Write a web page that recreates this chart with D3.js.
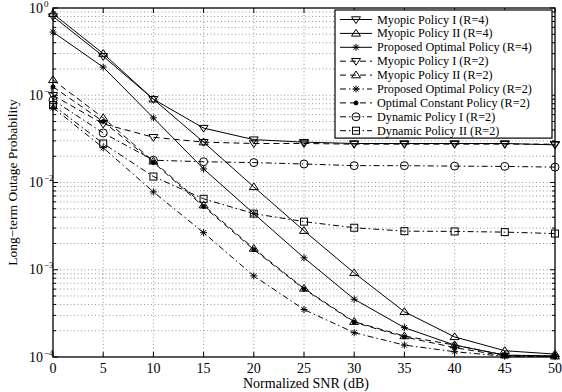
<!DOCTYPE html>
<html>
<head>
<meta charset="utf-8">
<script src="https://cdn.jsdelivr.net/npm/d3@7"></script>
<style>
  html, body { margin: 0; padding: 0; background: #fff; }
  svg, svg text { font-family: "Liberation Serif", "Times New Roman", "DejaVu Serif", serif; }
</style>
</head>
<body>
<div id="chart"></div>
<script>
const snr = [0, 5, 10, 15, 20, 25, 30, 35, 40, 45, 50];

const myopic1R4 = [0.80, 0.28, 0.09, 0.042, 0.031, 0.029, 0.028, 0.028, 0.028, 0.028, 0.027];
const myopic2R4 = [0.86, 0.30, 0.09, 0.029, 0.0089, 0.0028, 0.00092, 0.00033, 0.00017, 0.000118, 0.000108];
const propR4 = [0.53, 0.21, 0.055, 0.0143, 0.0044, 0.00137, 0.00046, 0.000217, 0.000137, 0.000105, 0.000103];
const myopic1R2 = [0.10, 0.047, 0.033, 0.029, 0.028, 0.028, 0.0275, 0.0275, 0.0275, 0.0275, 0.0275];
const myopic2R2 = [0.15, 0.055, 0.0175, 0.0055, 0.00175, 0.00061, 0.000254, 0.000174, 0.000137, 0.000105, 0.000102];
const propR2 = [0.072, 0.025, 0.0078, 0.00266, 0.00085, 0.00035, 0.00019, 0.000137, 0.000115, 0.000102, 0.000101];
const optConstR2 = [0.125, 0.05, 0.017, 0.0053, 0.0017, 0.0006, 0.00025, 0.00017, 0.000128, 0.000103, 0.000101];
const dyn1R2 = [0.088, 0.037, 0.018, 0.0173, 0.0169, 0.0163, 0.0156, 0.0156, 0.0154, 0.0153, 0.015];
const dyn2R2 = [0.077, 0.028, 0.0117, 0.0065, 0.0044, 0.00356, 0.00303, 0.00277, 0.00275, 0.0027, 0.0026];

const seriesNames = [
  'Myopic Policy I (R=4)', 'Myopic Policy II (R=4)', 'Proposed Optimal Policy (R=4)',
  'Myopic Policy I (R=2)', 'Myopic Policy II (R=2)', 'Proposed Optimal Policy (R=2)',
  'Optimal Constant Policy (R=2)', 'Dynamic Policy I (R=2)', 'Dynamic Policy II (R=2)'
];
const seriesValues = [myopic1R4, myopic2R4, propR4, myopic1R2, myopic2R2, propR2, optConstR2, dyn1R2, dyn2R2];
const seriesMarkers = ['tdown', 'tup', 'star', 'tdown', 'tup', 'star', 'dot', 'circle', 'square'];
const seriesDash = ['none', 'none', 'none', '6,4', '6,4', '6,3,1.5,3', '6,4', '6,3,1.5,3', '6,3,1.5,3'];

const xTicks = [0, 5, 10, 15, 20, 25, 30, 35, 40, 45, 50];
const yDecades = [0, -1, -2, -3, -4];

const FONT = '"Liberation Serif", "Times New Roman", serif';
const W = 562, H = 392;
const m = { left: 53, right: 7, top: 8, bottom: 35 };

const svg = d3.select('#chart').append('svg').attr('width', W).attr('height', H)
  .attr('font-family', FONT);

const x = d3.scaleLinear().domain([0, 50]).range([m.left, W - m.right]);
const y = d3.scaleLog().domain([1e-4, 1]).range([H - m.bottom, m.top]);

// minor log positions
const minor = [];
for (let e = -4; e < 0; e++) for (let k = 2; k <= 9; k++) minor.push(k * Math.pow(10, e));

// grid
const grid = svg.append('g').attr('stroke', '#555').attr('stroke-width', 0.6).attr('stroke-dasharray', '1,2.5');
xTicks.slice(1, -1).forEach(t => grid.append('line')
  .attr('x1', x(t)).attr('x2', x(t)).attr('y1', y(1)).attr('y2', y(1e-4)));
minor.concat(yDecades.slice(1, -1).map(d => Math.pow(10, d))).forEach(v => grid.append('line')
  .attr('x1', x(0)).attr('x2', x(50)).attr('y1', y(v)).attr('y2', y(v)));

// frame + ticks
const ax = svg.append('g').attr('stroke', '#000').attr('stroke-width', 1);
ax.append('rect').attr('x', x(0)).attr('y', y(1)).attr('width', x(50) - x(0)).attr('height', y(1e-4) - y(1))
  .attr('fill', 'none').attr('stroke-width', 1.3);
xTicks.forEach(t => {
  ax.append('line').attr('x1', x(t)).attr('x2', x(t)).attr('y1', y(1e-4)).attr('y2', y(1e-4) - 5);
  ax.append('line').attr('x1', x(t)).attr('x2', x(t)).attr('y1', y(1)).attr('y2', y(1) + 5);
});
yDecades.forEach(d => {
  const v = Math.pow(10, d);
  ax.append('line').attr('x1', x(0)).attr('x2', x(0) + 5).attr('y1', y(v)).attr('y2', y(v));
  ax.append('line').attr('x1', x(50)).attr('x2', x(50) - 5).attr('y1', y(v)).attr('y2', y(v));
});
minor.forEach(v => {
  ax.append('line').attr('x1', x(0)).attr('x2', x(0) + 3).attr('y1', y(v)).attr('y2', y(v));
  ax.append('line').attr('x1', x(50)).attr('x2', x(50) - 3).attr('y1', y(v)).attr('y2', y(v));
});

// tick labels
const lab = svg.append('g').attr('fill', '#000').attr('font-size', 14);
xTicks.forEach(t => lab.append('text').attr('x', x(t)).attr('y', y(1e-4) + 16)
  .attr('text-anchor', 'middle').text(t));
yDecades.forEach(d => {
  const vy = y(Math.pow(10, d));
  lab.append('text').attr('x', x(0) - 10).attr('y', vy + 4.5).attr('text-anchor', 'end').text('10');
  lab.append('text').attr('x', x(0) - 9).attr('y', vy - 1.5).attr('font-size', 9)
    .text(d === 0 ? '0' : '\u2212' + (-d));
});

svg.append('text').attr('x', (x(0) + x(50)) / 2 + 2).attr('y', H - 4).attr('text-anchor', 'middle')
  .attr('font-size', 14).text('Normalized SNR (dB)');
svg.append('text').attr('transform', `translate(17,${(y(1) + y(1e-4)) / 2}) rotate(-90)`)
  .attr('text-anchor', 'middle').attr('font-size', 13.5).text('Long\u2212term Outage Probability');

// markers
function drawMarker(g, type, cx, cy) {
  const s = 4.5;
  if (type === 'tdown') {
    g.append('path').attr('d', `M${cx - s},${cy - s * 0.6}L${cx + s},${cy - s * 0.6}L${cx},${cy + s * 0.9}Z`);
  } else if (type === 'tup') {
    g.append('path').attr('d', `M${cx - s},${cy + s * 0.6}L${cx + s},${cy + s * 0.6}L${cx},${cy - s * 0.9}Z`);
  } else if (type === 'star') {
    const r = 3.5, d = r * 0.72;
    g.append('path').attr('d', `M${cx - r},${cy}L${cx + r},${cy}M${cx},${cy - r}L${cx},${cy + r}` +
      `M${cx - d},${cy - d}L${cx + d},${cy + d}M${cx - d},${cy + d}L${cx + d},${cy - d}`);
  } else if (type === 'dot') {
    g.append('circle').attr('cx', cx).attr('cy', cy).attr('r', 2).attr('fill', '#000');
  } else if (type === 'circle') {
    g.append('circle').attr('cx', cx).attr('cy', cy).attr('r', 4);
  } else if (type === 'square') {
    g.append('rect').attr('x', cx - 3.5).attr('y', cy - 3.5).attr('width', 7).attr('height', 7);
  }
}

const line = d3.line().x((d, i) => x(snr[i])).y(d => y(d));
const plot = svg.append('g');
seriesValues.forEach((vals, si) => {
  plot.append('path').datum(vals).attr('d', line).attr('fill', 'none').attr('stroke', '#000')
    .attr('stroke-width', 1).attr('stroke-dasharray', seriesDash[si] === 'none' ? null : seriesDash[si]);
  const mg = plot.append('g').attr('fill', 'none').attr('stroke', '#000').attr('stroke-width', 1);
  vals.forEach((v, i) => drawMarker(mg, seriesMarkers[si], x(snr[i]), y(v)));
});

// legend
const lg = svg.append('g');
const lx = 335, ly = 10, lw = 217, rowH = 13.9;
lg.append('rect').attr('x', lx).attr('y', ly).attr('width', lw).attr('height', rowH * 9 + 3)
  .attr('fill', '#fff').attr('stroke', '#000').attr('stroke-width', 1.2);
seriesNames.forEach((name, i) => {
  const cy = ly + 9.5 + i * rowH;
  lg.append('line').attr('x1', lx + 5).attr('x2', lx + 37).attr('y1', cy).attr('y2', cy)
    .attr('stroke', '#000').attr('stroke-width', 1)
    .attr('stroke-dasharray', seriesDash[i] === 'none' ? null : seriesDash[i]);
  const mg = lg.append('g').attr('fill', 'none').attr('stroke', '#000').attr('stroke-width', 1);
  drawMarker(mg, seriesMarkers[i], lx + 21, cy);
  lg.append('text').attr('x', lx + 42).attr('y', cy + 4).attr('font-size', 12.2).text(name);
});
</script>
</body>
</html>
